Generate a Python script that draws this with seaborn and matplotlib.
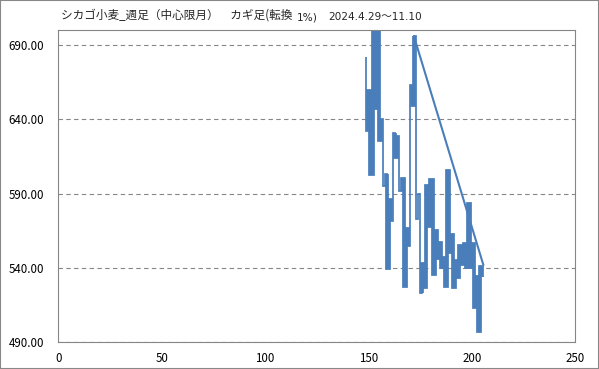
import numpy as np
import pandas as pd
import matplotlib
matplotlib.use("Agg")
import matplotlib.pyplot as plt
import seaborn as sns
from matplotlib.patches import Rectangle

# ---- data ----
x_start = 149
kagi_prices = [682, 632, 659, 603, 712, 648, 702, 626, 640, 595, 603, 540, 586, 572,
               631, 615, 629, 592, 600, 528, 566, 555, 663, 650, 696, 573, 590, 523,
               543, 527, 595, 568, 599, 536, 565, 547, 557, 541, 547, 528, 605, 551,
               562, 527, 545, 534, 555, 543, 556, 541, 583, 541, 556, 514, 534, 498,
               541, 534]
# 1 = yang (thick) vertical, 0 = yin (thin) vertical, for x = 149 .. 205
yang_flags = [0, 1, 1, 1, 1, 1, 1, 1, 0, 0, 1, 1, 1, 0, 1, 1, 0, 1, 1, 1, 1, 0, 1, 1,
              0, 0, 0, 1, 1, 1, 1, 1, 1, 1, 1, 1, 1, 1, 1, 1, 1, 1, 1, 1, 1, 1, 1, 1,
              1, 1, 1, 1, 1, 1, 1, 1, 1]
link_x = [172, 205.6]
link_y = [696, 542]
title_main = "シカゴ小麦_週足（中心限月）　カギ足(転換"
title_pct = "1%)"
title_period = "2024.4.29～11.10"
x_ticks = [0, 50, 100, 150, 200, 250]
y_ticks = [490, 540, 590, 640, 690]

# ---- build paths ----
n = len(kagi_prices) - 1
px, py = [x_start], [kagi_prices[0]]
for k in range(n):
    x = x_start + k
    px.append(x); py.append(kagi_prices[k + 1])
    if k < n - 1:
        px.append(x + 1); py.append(kagi_prices[k + 1])
thin_df = pd.DataFrame({"x": px, "y": py})

rows = []
run = -1
prev = 0
for k in range(n):
    x = x_start + k
    if yang_flags[k]:
        if not prev:
            run += 1
            rows.append((run, x, kagi_prices[k]))
        rows.append((run, x, kagi_prices[k + 1]))
        if k < n - 1 and yang_flags[k + 1]:
            rows.append((run, x + 1, kagi_prices[k + 1]))
    prev = yang_flags[k]
thick_df = pd.DataFrame(rows, columns=["run", "x", "y"])
link_df = pd.DataFrame({"x": link_x, "y": link_y})

# ---- draw ----
sns.set_theme(style="white")
plt.rcParams["font.family"] = ["Noto Sans CJK JP", "DejaVu Sans"]

fig = plt.figure(figsize=(5.99, 3.69), dpi=100)
ax = fig.add_axes([0.0972, 0.0721, 0.8631, 0.8458])

blue = "#4a7ebb"
sns.lineplot(data=thin_df, x="x", y="y", sort=False, estimator=None, color=blue,
             lw=1.25, ax=ax, solid_joinstyle="miter", solid_capstyle="butt")
sns.lineplot(data=thick_df, x="x", y="y", units="run", sort=False, estimator=None,
             color=blue, lw=2.7, ax=ax, solid_joinstyle="miter", solid_capstyle="butt")
sns.lineplot(data=link_df, x="x", y="y", sort=False, estimator=None, color=blue,
             lw=1.5, ax=ax)

ax.set_xlim(0, 250)
ax.set_ylim(490, 700)
ax.set_xticks(x_ticks)
ax.set_xticklabels([str(v) for v in x_ticks])
ax.set_yticks(y_ticks)
ax.set_yticklabels([f"{v:.2f}" for v in y_ticks])
ax.set_xlabel("")
ax.set_ylabel("")
ax.yaxis.grid(True, linestyle=(0, (4, 3)), color="#868686", lw=0.8)
ax.xaxis.grid(False)
for s in ax.spines.values():
    s.set_color("#868686")
    s.set_linewidth(0.8)
ax.tick_params(axis="both", direction="out", length=4, width=0.8, color="#868686",
               labelsize=8.3, labelcolor="#000000")
ax.tick_params(axis="y", pad=6)
ax.tick_params(axis="x", pad=3)

t1 = fig.text(61 / 599, 1 - 19 / 369, title_main, fontsize=8.4, va="baseline",
              ha="left")
t2 = ax.annotate(title_pct, xy=(1, 0), xycoords=t1, xytext=(3, 0),
                 textcoords="offset points", fontsize=7.6, va="bottom", ha="left",
                 family=["DejaVu Sans", "Noto Sans CJK JP"], annotation_clip=False)
t3 = ax.annotate(title_period, xy=(1, 0), xycoords=t2, xytext=(8, 0),
                 textcoords="offset points", fontsize=7.6, va="bottom", ha="left",
                 family=["DejaVu Sans", "Noto Sans CJK JP"], annotation_clip=False)

fig.patches.append(Rectangle((0, 0), 1, 1, transform=fig.transFigure, fill=False,
                             edgecolor="#888888", lw=1.5))

fig.savefig("out.png", dpi=100)
